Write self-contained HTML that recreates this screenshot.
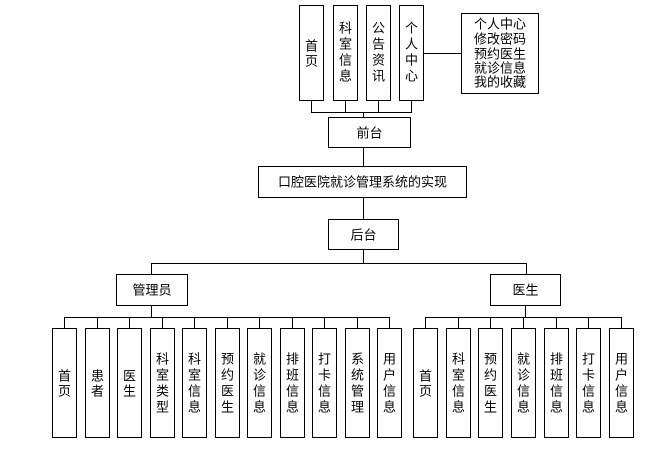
<!DOCTYPE html>
<html><head><meta charset="utf-8"><style>
html,body{margin:0;padding:0;background:#fff;}
svg text{font-family:"Liberation Sans","Noto Sans CJK SC","WenQuanYi Zen Hei",sans-serif;font-size:13px;fill:#000;}
</style></head><body>
<svg width="672" height="452" viewBox="0 0 672 452" xmlns="http://www.w3.org/2000/svg">
<g stroke="#000" stroke-width="1" fill="none">
<!-- top -->
<rect x="299.5" y="5.5" width="24" height="95"/>
<rect x="333.5" y="5.5" width="24" height="95"/>
<rect x="366.5" y="5.5" width="24" height="95"/>
<rect x="399.5" y="5.5" width="24" height="95"/>
<rect x="461.5" y="13.5" width="77" height="80"/>
<line x1="423" y1="53.5" x2="461" y2="53.5"/>
<polyline points="311.5,100 311.5,112.5 411.5,112.5 411.5,100"/>
<line x1="345.5" y1="100" x2="345.5" y2="112"/>
<line x1="378.5" y1="100" x2="378.5" y2="112"/>
<line x1="363.5" y1="112" x2="363.5" y2="117"/>
<rect x="328.5" y="117.5" width="82" height="30"/>
<line x1="363.5" y1="147" x2="363.5" y2="166"/>
<rect x="258.5" y="166.5" width="208" height="31"/>
<line x1="363.5" y1="198" x2="363.5" y2="219"/>
<rect x="328.5" y="219.5" width="70" height="30"/>
<line x1="363.5" y1="250" x2="363.5" y2="263"/>
<polyline points="151.5,274 151.5,263.5 526.5,263.5 526.5,274"/>
<rect x="116.5" y="274.5" width="71" height="31"/>
<rect x="490.5" y="274.5" width="70" height="31"/>
<line x1="151.5" y1="305" x2="151.5" y2="317"/>
<line x1="525.5" y1="305" x2="525.5" y2="317"/>
<line x1="64" y1="317.5" x2="389" y2="317.5"/>
<line x1="425" y1="317.5" x2="621" y2="317.5"/>
</g>
<g stroke="#000" stroke-width="1" fill="none" id="adm">
<rect x="52.5" y="328.5" width="24" height="109"/><line x1="64.5" y1="317" x2="64.5" y2="328"/>
<rect x="85.5" y="328.5" width="24" height="109"/><line x1="97.5" y1="317" x2="97.5" y2="328"/>
<rect x="117.5" y="328.5" width="24" height="109"/><line x1="129.5" y1="317" x2="129.5" y2="328"/>
<rect x="150.5" y="328.5" width="24" height="109"/><line x1="162.5" y1="317" x2="162.5" y2="328"/>
<rect x="182.5" y="328.5" width="24" height="109"/><line x1="194.5" y1="317" x2="194.5" y2="328"/>
<rect x="215.5" y="328.5" width="24" height="109"/><line x1="227.5" y1="317" x2="227.5" y2="328"/>
<rect x="247.5" y="328.5" width="24" height="109"/><line x1="259.5" y1="317" x2="259.5" y2="328"/>
<rect x="280.5" y="328.5" width="24" height="109"/><line x1="292.5" y1="317" x2="292.5" y2="328"/>
<rect x="312.5" y="328.5" width="24" height="109"/><line x1="324.5" y1="317" x2="324.5" y2="328"/>
<rect x="345.5" y="328.5" width="24" height="109"/><line x1="357.5" y1="317" x2="357.5" y2="328"/>
<rect x="377.5" y="328.5" width="24" height="109"/><line x1="389.5" y1="317" x2="389.5" y2="328"/>
<rect x="413.5" y="328.5" width="24" height="109"/><line x1="425.5" y1="317" x2="425.5" y2="328"/>
<rect x="446.5" y="328.5" width="24" height="109"/><line x1="458.5" y1="317" x2="458.5" y2="328"/>
<rect x="478.5" y="328.5" width="24" height="109"/><line x1="490.5" y1="317" x2="490.5" y2="328"/>
<rect x="511.5" y="328.5" width="24" height="109"/><line x1="523.5" y1="317" x2="523.5" y2="328"/>
<rect x="544.5" y="328.5" width="24" height="109"/><line x1="556.5" y1="317" x2="556.5" y2="328"/>
<rect x="576.5" y="328.5" width="24" height="109"/><line x1="588.5" y1="317" x2="588.5" y2="328"/>
<rect x="609.5" y="328.5" width="24" height="109"/><line x1="621.5" y1="317" x2="621.5" y2="328"/>
</g>
<g text-anchor="middle" dominant-baseline="central">
<text x="311.5" y="46">首</text><text x="311.5" y="61">页</text>
<text x="345.5" y="28">科</text><text x="345.5" y="44">室</text><text x="345.5" y="60">信</text><text x="345.5" y="76">息</text>
<text x="378.5" y="28">公</text><text x="378.5" y="44">告</text><text x="378.5" y="60">资</text><text x="378.5" y="76">讯</text>
<text x="411.5" y="28">个</text><text x="411.5" y="44">人</text><text x="411.5" y="60">中</text><text x="411.5" y="76">心</text>
<text x="369.5" y="133">前台</text>
<text x="362.5" y="182">口腔医院就诊管理系统的实现</text>
<text x="363.5" y="235">后台</text>
<text x="152" y="290">管理员</text>
<text x="525.5" y="290">医生</text>
</g>
<g dominant-baseline="central">
<text x="474" y="24">个人中心</text>
<text x="474" y="39">修改密码</text>
<text x="474" y="54">预约医生</text>
<text x="474" y="68">就诊信息</text>
<text x="474" y="82">我的收藏</text>
</g>
<g text-anchor="middle" dominant-baseline="central">
<text x="64.5" y="376">首</text><text x="64.5" y="391">页</text>
<text x="97.5" y="376">患</text><text x="97.5" y="391">者</text>
<text x="129.5" y="376">医</text><text x="129.5" y="391">生</text>
<text x="162.5" y="359">科</text><text x="162.5" y="375">室</text><text x="162.5" y="391">类</text><text x="162.5" y="407">型</text>
<text x="194.5" y="359">科</text><text x="194.5" y="375">室</text><text x="194.5" y="391">信</text><text x="194.5" y="407">息</text>
<text x="227.5" y="359">预</text><text x="227.5" y="375">约</text><text x="227.5" y="391">医</text><text x="227.5" y="407">生</text>
<text x="259.5" y="359">就</text><text x="259.5" y="375">诊</text><text x="259.5" y="391">信</text><text x="259.5" y="407">息</text>
<text x="292.5" y="359">排</text><text x="292.5" y="375">班</text><text x="292.5" y="391">信</text><text x="292.5" y="407">息</text>
<text x="324.5" y="359">打</text><text x="324.5" y="375">卡</text><text x="324.5" y="391">信</text><text x="324.5" y="407">息</text>
<text x="357.5" y="359">系</text><text x="357.5" y="375">统</text><text x="357.5" y="391">管</text><text x="357.5" y="407">理</text>
<text x="389.5" y="359">用</text><text x="389.5" y="375">户</text><text x="389.5" y="391">信</text><text x="389.5" y="407">息</text>
<text x="425.5" y="376">首</text><text x="425.5" y="391">页</text>
<text x="458.5" y="359">科</text><text x="458.5" y="375">室</text><text x="458.5" y="391">信</text><text x="458.5" y="407">息</text>
<text x="490.5" y="359">预</text><text x="490.5" y="375">约</text><text x="490.5" y="391">医</text><text x="490.5" y="407">生</text>
<text x="523.5" y="359">就</text><text x="523.5" y="375">诊</text><text x="523.5" y="391">信</text><text x="523.5" y="407">息</text>
<text x="556.5" y="359">排</text><text x="556.5" y="375">班</text><text x="556.5" y="391">信</text><text x="556.5" y="407">息</text>
<text x="588.5" y="359">打</text><text x="588.5" y="375">卡</text><text x="588.5" y="391">信</text><text x="588.5" y="407">息</text>
<text x="621.5" y="359">用</text><text x="621.5" y="375">户</text><text x="621.5" y="391">信</text><text x="621.5" y="407">息</text>
</g>
</svg>
</body></html>
